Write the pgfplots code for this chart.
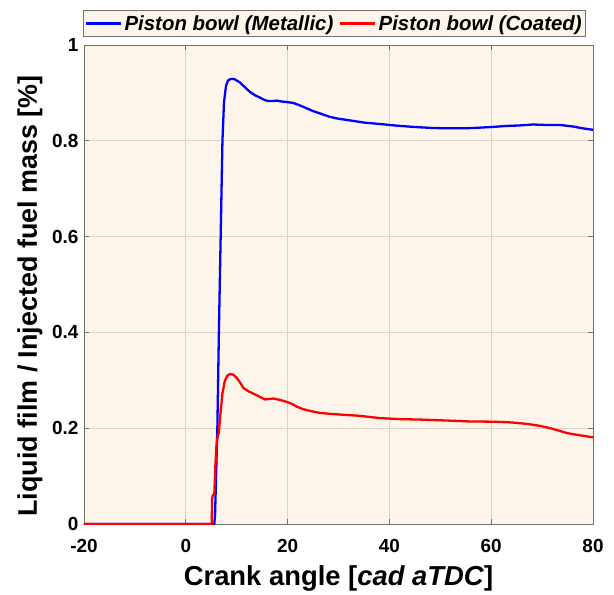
\documentclass[border=0pt]{standalone}
\usepackage{fontspec}
\setmainfont{Liberation Sans}
\usepackage{pgfplots}
\pgfplotsset{compat=1.18}

\definecolor{panelbg}{RGB}{253,245,234}
\definecolor{framegray}{RGB}{112,112,112}
\definecolor{gridgray}{RGB}{218,211,200}
\definecolor{metblue}{RGB}{0,0,255}
\definecolor{coatred}{RGB}{255,0,0}

\begin{document}
\begin{tikzpicture}
\begin{axis}[
  name=ax,
  scale only axis,
  width=509bp, height=479bp,
  xmin=-20, xmax=80, ymin=0, ymax=1,
  xtick={-20,0,20,40,60,80},
  ytick={0,0.2,0.4,0.6,0.8,1},
  axis background/.style={fill=panelbg},
  axis line style={framegray, line width=0.9pt},
  tick style={framegray, line width=0.9pt},
  major tick length=5bp,
  tick align=inside,
  xtick pos=both, ytick pos=both,
  grid=major,
  major grid style={gridgray, line width=0.7pt},
  /pgf/number format/assume math mode=true,
  tick label style={font=\fontsize{19}{22}\selectfont\bfseries},
  xticklabel style={yshift=-12bp},
  yticklabel style={xshift=-2bp},
  label style={font=\fontsize{27.5}{32}\selectfont\bfseries},
  xlabel={Crank angle [\textit{cad aTDC}]},
  ylabel={Liquid film / Injected fuel mass [\%]},
  xlabel style={at={(axis description cs:0.5,-0.113)}, anchor=center},
  ylabel style={at={(axis description cs:-0.106,0.476)}, anchor=center, font=\fontsize{27}{32}\selectfont\bfseries},
  legend columns=2,
  legend style={
    at={(axis description cs:0.5,1.017)}, anchor=south, xshift=-4bp,
    fill=panelbg, draw=framegray, line width=0.6pt,
    font=\fontsize{20.5}{24}\selectfont\bfseries\itshape,
    inner xsep=2bp, inner ysep=3bp,
    /tikz/every even column/.append style={column sep=4bp},
    cells={anchor=west},
  },
  legend image code/.code={\draw[#1] (0bp,0bp) -- (35bp,0bp);},
]
% metallic piston bowl
\addplot[metblue, line width=2.3pt] coordinates {
(-20,0) (5.6,0) (5.75,0.02) (6.0,0.12) (6.2,0.2) (6.5,0.4) (6.85,0.6)
(7.2,0.8) (7.5,0.88) (7.9,0.915) (8.3,0.926) (8.8,0.929) (9.5,0.929)
(10.6,0.922) (11.6,0.912) (12.6,0.902) (13.6,0.895) (14.6,0.89)
(15.5,0.885) (16.2,0.883) (17.0,0.883) (17.9,0.884) (18.8,0.882)
(19.8,0.881) (21.1,0.879) (22.4,0.874) (23.7,0.868) (25,0.862)
(26.4,0.857) (28.3,0.850) (30,0.846) (32,0.843) (35,0.838) (38.2,0.835)
(41,0.832) (44.7,0.829) (48,0.827) (51,0.826) (54.5,0.826) (57,0.827)
(60.4,0.829) (63,0.831) (65.5,0.832) (68.2,0.834) (71,0.833) (73.5,0.833)
(76,0.830) (78,0.826) (80,0.823)
};
\addlegendentry{Piston bowl (Metallic)}
% coated piston bowl
\addplot[coatred, line width=2.3pt] coordinates {
(-20,0) (5.1,0) (5.15,0.05) (5.3,0.06) (5.6,0.062) (5.8,0.12) (6.05,0.168)
(6.3,0.185) (6.5,0.19) (6.8,0.23) (7.2,0.273) (7.7,0.30) (8.2,0.31)
(8.7,0.313) (9.3,0.312) (10.0,0.305) (10.7,0.295) (11.3,0.284)
(12.3,0.277) (13.1,0.273) (13.9,0.269) (14.8,0.264) (15.6,0.260)
(16.4,0.261) (17.2,0.262) (18.5,0.259) (19.8,0.255) (20.8,0.251)
(21.8,0.245) (23,0.240) (24.4,0.236) (26.3,0.232) (28.3,0.230)
(31,0.228) (34,0.226) (38.2,0.221) (42,0.219) (46,0.218) (51.3,0.216)
(56,0.214) (60.4,0.2136) (64,0.212) (67,0.209) (69.5,0.205) (71.6,0.200)
(73.3,0.195) (74.8,0.190) (77.5,0.185) (80,0.181)
};
\addlegendentry{Piston bowl (Coated)}
\end{axis}
\path (ax.south west) ++(-84bp,-70bp) rectangle ++(614bp,594bp);
\end{tikzpicture}
\end{document}
